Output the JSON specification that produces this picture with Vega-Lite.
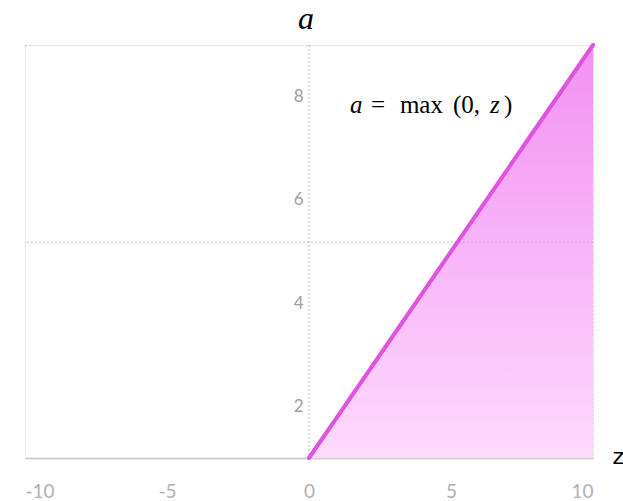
{
  "$schema": "https://vega.github.io/schema/vega-lite/v6.json",
  "width": 568,
  "height": 413,
  "autosize": "none",
  "padding": {"left": 25, "top": 45, "right": 30, "bottom": 43},
  "background": "white",
  "config": {
    "view": {"stroke": "#cccccc", "strokeDash": [2, 2], "strokeWidth": 1},
    "font": "Lato"
  },
  "title": {
    "text": "a",
    "font": "Liberation Serif",
    "fontStyle": "italic",
    "fontWeight": "normal",
    "fontSize": 32,
    "color": "#000000",
    "anchor": "middle",
    "offset": 1,
    "dx": -3
  },
  "datasets": {
    "relu": [
      {"z": 0, "a": 1},
      {"z": 10, "a": 9}
    ],
    "grid": [
      {"z": 0, "a": 5.18}
    ],
    "label": [
      {"z": 1.44, "a": 7.84}
    ]
  },
  "layer": [
    {
      "data": {"name": "relu"},
      "mark": {
        "type": "area",
        "color": {
          "gradient": "linear",
          "x1": 0, "y1": 0, "x2": 0, "y2": 1,
          "stops": [
            {"offset": 0, "color": "#f390f3"},
            {"offset": 1, "color": "#fddafd"}
          ]
        }
      },
      "encoding": {
        "x": {
          "field": "z", "type": "quantitative",
          "scale": {"domain": [-10, 10], "nice": false},
          "axis": {
            "values": [-10, -5, 0, 5, 10],
            "labelExpr": "datum.value < 0 ? '-' + abs(datum.value) : '' + datum.value",
            "grid": false,
            "ticks": false,
            "domainColor": "#d0d0d0",
            "domainWidth": 2,
            "labelColor": "#b0b0b0",
            "labelFont": "Lato",
            "labelFontSize": 19,
            "labelPadding": 24,
            "title": "z",
            "titleFont": "DejaVu Sans",
            "titleFontWeight": "normal",
            "titleFontSize": 22,
            "titleColor": "#000000",
            "titleX": 587,
            "titleY": -2,
            "titleAlign": "left",
            "titleBaseline": "middle"
          }
        },
        "y": {
          "field": "a", "type": "quantitative",
          "scale": {"domain": [1, 9], "nice": false, "zero": false},
          "axis": {
            "values": [2, 4, 6, 8],
            "offset": -284,
            "grid": false,
            "ticks": false,
            "domain": false,
            "labelColor": "#a0a0a0",
            "labelFont": "Lato",
            "labelFontSize": 17,
            "labelPadding": 6,
            "title": null
          }
        },
        "y2": {"datum": 1}
      }
    },
    {
      "data": {"name": "grid"},
      "mark": {"type": "rule", "color": "#bbbbbb", "strokeDash": [2, 2], "strokeWidth": 1},
      "encoding": {"x": {"field": "z", "type": "quantitative"}}
    },
    {
      "data": {"name": "grid"},
      "mark": {"type": "rule", "color": "#bbbbbb", "strokeDash": [2, 2], "strokeWidth": 1},
      "encoding": {"y": {"field": "a", "type": "quantitative"}}
    },
    {
      "data": {"name": "relu"},
      "mark": {"type": "line", "color": "#e052e0", "strokeWidth": 4, "strokeCap": "round"},
      "encoding": {
        "x": {"field": "z", "type": "quantitative"},
        "y": {"field": "a", "type": "quantitative"}
      }
    },
    {
      "data": {"name": "label"},
      "mark": {"type": "text", "text": "a", "font": "Liberation Serif", "fontStyle": "italic", "fontSize": 25, "color": "#000000", "align": "left", "baseline": "middle", "dx": 0},
      "encoding": {
        "x": {"field": "z", "type": "quantitative"},
        "y": {"field": "a", "type": "quantitative"}
      }
    },
    {
      "data": {"name": "label"},
      "mark": {"type": "text", "text": "=", "font": "Liberation Serif", "fontSize": 25, "color": "#000000", "align": "left", "baseline": "middle", "dx": 21},
      "encoding": {
        "x": {"field": "z", "type": "quantitative"},
        "y": {"field": "a", "type": "quantitative"}
      }
    },
    {
      "data": {"name": "label"},
      "mark": {"type": "text", "text": "max", "font": "Liberation Serif", "fontSize": 25, "color": "#000000", "align": "left", "baseline": "middle", "dx": 50},
      "encoding": {
        "x": {"field": "z", "type": "quantitative"},
        "y": {"field": "a", "type": "quantitative"}
      }
    },
    {
      "data": {"name": "label"},
      "mark": {"type": "text", "text": "(0,", "font": "Liberation Serif", "fontSize": 25, "color": "#000000", "align": "left", "baseline": "middle", "dx": 103},
      "encoding": {
        "x": {"field": "z", "type": "quantitative"},
        "y": {"field": "a", "type": "quantitative"}
      }
    },
    {
      "data": {"name": "label"},
      "mark": {"type": "text", "text": "z", "font": "Liberation Serif", "fontStyle": "italic", "fontSize": 25, "color": "#000000", "align": "left", "baseline": "middle", "dx": 140},
      "encoding": {
        "x": {"field": "z", "type": "quantitative"},
        "y": {"field": "a", "type": "quantitative"}
      }
    },
    {
      "data": {"name": "label"},
      "mark": {"type": "text", "text": ")", "font": "Liberation Serif", "fontSize": 25, "color": "#000000", "align": "left", "baseline": "middle", "dx": 154},
      "encoding": {
        "x": {"field": "z", "type": "quantitative"},
        "y": {"field": "a", "type": "quantitative"}
      }
    }
  ]
}
